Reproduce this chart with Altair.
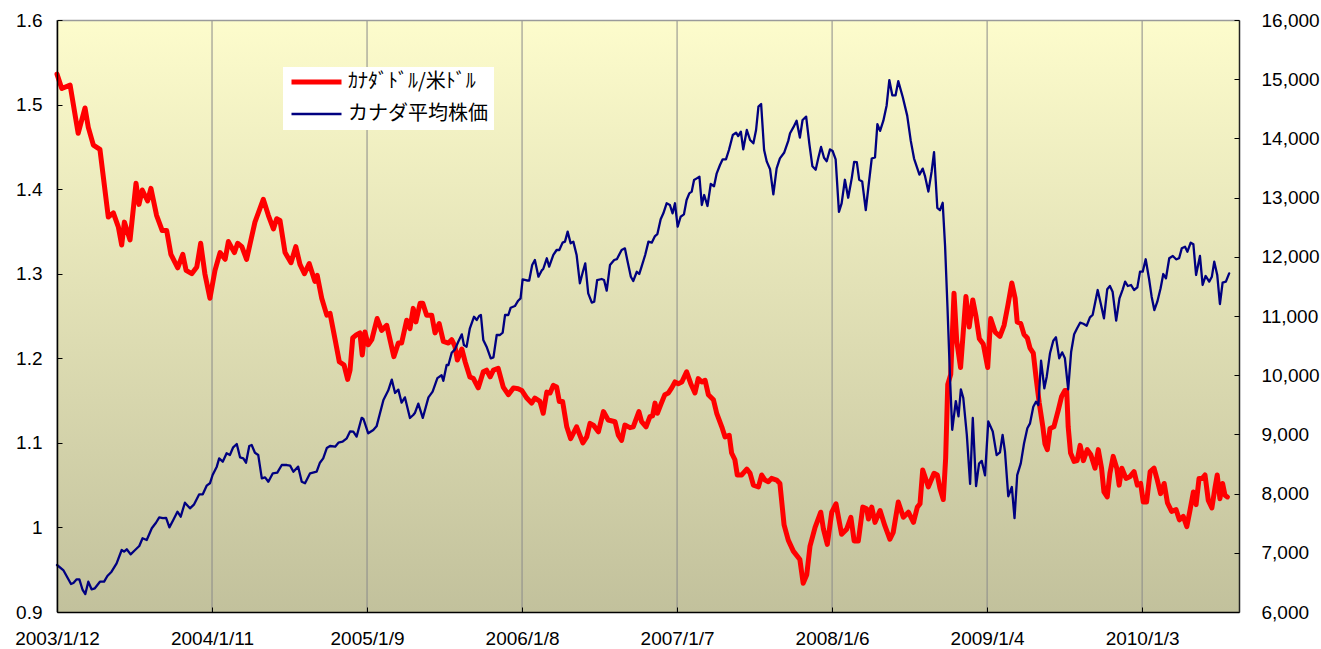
import altair as alt
import numpy as np
import pandas as pd

START = pd.Timestamp("2003-01-12")

# weeks since 2003/1/12 and CAD per USD
fx_weeks = [0.0, 1.6, 4.4, 7.1, 9.4, 10.5, 12.2, 14.4, 17.2, 18.9, 20.6, 21.7, 22.6, 24.5, 26.5, 27.5, 28.6, 30.4, 31.5, 33.4,
            35.3, 36.8, 38.2, 40.5, 42.2, 43.3, 45.2, 46.9, 48.2, 49.6, 51.3, 53.0, 54.7, 56.4, 57.5, 59.5, 60.6, 62.0, 63.6, 66.4,
            69.2, 70.9, 72.6, 73.7, 74.8, 76.5, 78.5, 80.1, 81.5, 83.0, 84.6, 86.5, 87.3, 88.8, 90.5, 91.6, 93.3, 94.7, 96.3, 97.5,
            98.3, 99.2, 100.5, 101.6, 102.4, 103.3, 104.4, 105.6, 107.4, 108.9, 110.6, 111.7, 113.0, 114.5, 115.6, 117.3, 118.4, 119.5, 120.4, 121.8,
            122.7, 124.0, 125.7, 126.8, 128.2, 129.6, 131.3, 132.4, 133.5, 134.3, 135.8, 136.9, 138.5, 139.7, 141.3, 143.0, 144.1, 145.3, 146.4, 148.0,
            149.7, 151.4, 153.1, 154.7, 155.9, 157.6, 159.2, 160.3, 162.0, 163.1, 164.3, 165.4, 166.5, 167.6, 168.5, 169.6, 171.0, 172.3, 174.3, 176.4,
            177.7, 178.8, 179.9, 181.6, 183.3, 184.9, 187.2, 188.3, 189.4, 190.5, 192.2, 193.3, 195.2, 196.1, 197.6, 198.9, 199.8, 200.6, 201.4, 202.5,
            203.9, 205.1, 206.2, 207.3, 208.4, 209.6, 211.2, 212.6, 214.0, 215.1, 216.3, 217.4, 218.5, 220.2, 221.3, 223.0, 224.1, 225.5, 226.3, 227.4,
            228.2, 229.7, 231.4, 232.5, 233.6, 235.3, 236.4, 237.5, 238.6, 239.7, 241.4, 242.5, 243.9, 245.3, 247.0, 249.2, 250.3, 251.5, 252.6, 254.3,
            256.2, 257.1, 258.4, 259.9, 261.3, 263.2, 264.9, 266.3, 267.4, 268.8, 270.3, 271.6, 272.2, 273.3, 274.4, 276.1, 277.7, 279.4, 280.5, 282.2,
            283.9, 285.6, 287.3, 288.6, 289.5, 290.4, 292.3, 294.2, 295.3, 296.2, 297.3, 298.1, 298.8, 299.8, 300.9, 301.8, 303.1, 304.0, 304.9, 306.0,
            307.2, 308.3, 309.4, 310.7, 312.2, 313.2, 314.7, 316.3, 317.7, 319.0, 320.3, 321.4, 322.1, 323.3, 324.4, 325.5, 326.4, 327.5, 328.4, 329.5,
            330.7, 331.4, 332.2, 333.1, 334.4, 335.9, 337.0, 338.1, 338.7, 339.2, 340.0, 341.2, 342.2, 343.2, 344.3, 345.6, 346.8, 348.2, 349.3, 350.4,
            351.2, 352.3, 353.2, 354.3, 355.5, 356.3, 357.2, 358.6, 359.9, 361.3, 362.4, 363.5, 364.4, 365.5, 366.7, 368.0, 369.1, 370.2, 371.4, 372.5,
            373.9, 375.4, 376.5, 377.8, 379.0, 380.1, 381.2, 382.1, 383.1, 384.2, 385.1, 386.2, 387.4, 388.5, 389.2, 390.1, 391.0, 391.8, 392.6]
fx_values = [1.536, 1.519, 1.523, 1.466, 1.496, 1.473, 1.452, 1.447, 1.367, 1.372, 1.355, 1.334, 1.361, 1.340, 1.407, 1.382, 1.399, 1.386, 1.401, 1.369,
             1.351, 1.351, 1.323, 1.307, 1.323, 1.304, 1.300, 1.308, 1.336, 1.300, 1.271, 1.304, 1.325, 1.317, 1.338, 1.325, 1.336, 1.332, 1.317, 1.361,
             1.388, 1.369, 1.353, 1.365, 1.363, 1.325, 1.313, 1.332, 1.311, 1.300, 1.312, 1.291, 1.298, 1.271, 1.251, 1.253, 1.222, 1.196, 1.192, 1.175,
             1.186, 1.224, 1.228, 1.230, 1.204, 1.231, 1.216, 1.222, 1.247, 1.233, 1.239, 1.222, 1.202, 1.218, 1.218, 1.245, 1.235, 1.259, 1.243, 1.265,
             1.265, 1.251, 1.251, 1.230, 1.241, 1.220, 1.218, 1.222, 1.214, 1.198, 1.211, 1.196, 1.178, 1.176, 1.165, 1.184, 1.186, 1.178, 1.186, 1.188,
             1.166, 1.157, 1.165, 1.164, 1.162, 1.153, 1.147, 1.153, 1.149, 1.135, 1.160, 1.159, 1.168, 1.166, 1.149, 1.149, 1.119, 1.105, 1.119, 1.100,
             1.107, 1.123, 1.121, 1.113, 1.137, 1.127, 1.125, 1.109, 1.103, 1.121, 1.118, 1.119, 1.137, 1.125, 1.119, 1.131, 1.132, 1.147, 1.135, 1.145,
             1.157, 1.159, 1.165, 1.172, 1.170, 1.172, 1.184, 1.170, 1.159, 1.176, 1.172, 1.174, 1.157, 1.151, 1.135, 1.119, 1.107, 1.109, 1.088, 1.080,
             1.062, 1.062, 1.069, 1.064, 1.050, 1.048, 1.062, 1.056, 1.054, 1.058, 1.056, 1.052, 1.003, 0.985, 0.972, 0.962, 0.934, 0.944, 0.978, 1.000,
             1.018, 0.998, 0.980, 1.018, 1.028, 0.992, 0.998, 1.012, 0.984, 0.984, 1.024, 1.022, 1.010, 1.024, 1.006, 1.020, 1.002, 0.986, 0.994, 1.030,
             1.012, 1.018, 1.006, 1.024, 1.028, 1.068, 1.048, 1.064, 1.062, 1.046, 1.033, 1.082, 1.169, 1.181, 1.277, 1.221, 1.189, 1.231, 1.273, 1.237,
             1.269, 1.249, 1.223, 1.217, 1.189, 1.247, 1.231, 1.226, 1.239, 1.263, 1.289, 1.271, 1.243, 1.241, 1.228, 1.224, 1.212, 1.206, 1.178, 1.147,
             1.119, 1.099, 1.092, 1.117, 1.119, 1.139, 1.155, 1.162, 1.162, 1.119, 1.088, 1.078, 1.079, 1.097, 1.079, 1.092, 1.086, 1.070, 1.092, 1.070,
             1.042, 1.036, 1.064, 1.084, 1.070, 1.050, 1.070, 1.058, 1.060, 1.066, 1.050, 1.052, 1.030, 1.030, 1.066, 1.070, 1.056, 1.040, 1.052, 1.029,
             1.019, 1.021, 1.009, 1.013, 1.001, 1.021, 1.042, 1.027, 1.058, 1.058, 1.062, 1.032, 1.023, 1.048, 1.062, 1.034, 1.052, 1.038, 1.036]

# weeks since 2003/1/12 and Canadian average stock price
stock_weeks = [0.0, 2.1, 4.7, 5.5, 6.6, 7.5, 8.6, 9.5, 10.5, 11.6, 12.7, 14.4, 15.8, 16.9, 18.3, 20.0, 21.7, 22.5, 23.4, 24.7,
               26.2, 27.6, 28.7, 30.1, 31.8, 33.2, 34.3, 35.5, 36.6, 37.7, 39.0, 40.4, 41.5, 42.9, 44.6, 46.0, 47.7, 48.9, 50.2, 51.3,
               52.2, 53.6, 54.4, 55.6, 56.9, 58.0, 59.1, 60.3, 61.4, 62.5, 63.4, 64.5, 65.3, 66.4, 67.5, 68.7, 69.8, 70.9, 72.4, 73.9,
               75.4, 77.1, 78.2, 79.3, 80.9, 82.1, 83.2, 84.9, 87.1, 88.2, 89.3, 90.5, 91.6, 93.3, 94.4, 95.8, 97.2, 98.3, 99.4, 100.5,
               102.2, 102.8, 104.4, 106.1, 107.2, 109.5, 111.1, 112.3, 113.4, 114.5, 115.6, 116.7, 118.4, 119.5, 120.1, 121.2, 122.7, 124.6, 126.0, 127.6,
               129.0, 129.6, 130.7, 131.3, 132.4, 133.5, 134.6, 135.8, 136.5, 137.4, 138.5, 139.9, 140.8, 141.6, 142.2, 143.0, 144.1, 145.5, 146.4, 147.5,
               148.6, 149.5, 150.3, 151.4, 152.2, 153.6, 154.7, 155.5, 156.2, 157.6, 158.4, 159.4, 160.3, 161.5, 162.6, 163.1, 164.3, 165.1, 166.5, 167.6,
               168.5, 169.6, 170.4, 171.3, 172.3, 173.2, 174.3, 175.4, 176.4, 177.2, 178.2, 179.4, 180.2, 181.2, 182.7, 183.5, 184.4, 185.5, 186.9, 187.8,
               189.4, 190.5, 191.3, 192.5, 193.3, 194.5, 195.3, 196.1, 197.3, 198.4, 199.5, 200.6, 201.4, 202.5, 203.4, 204.5, 205.6, 206.5, 207.3, 208.2,
               209.2, 210.3, 211.2, 212.1, 212.9, 213.7, 214.6, 215.5, 216.3, 217.1, 218.2, 219.3, 220.4, 221.3, 222.4, 223.3, 224.4, 225.4, 226.7, 227.8,
               228.5, 229.4, 230.2, 231.4, 232.5, 233.6, 234.5, 235.3, 236.2, 237.2, 238.1, 239.2, 240.3, 241.4, 242.5, 243.9, 245.3, 245.9, 247.0, 248.1,
               249.2, 250.1, 251.3, 252.4, 253.4, 254.5, 255.4, 256.3, 257.3, 258.2, 259.3, 260.2, 261.2, 262.3, 263.2, 264.3, 265.4, 266.6, 267.4, 268.3,
               269.1, 270.1, 271.3, 272.4, 273.3, 274.4, 275.2, 276.1, 277.2, 278.3, 279.2, 280.2, 281.3, 282.2, 283.7, 285.2, 286.4, 287.5, 289.3, 290.4,
               291.2, 292.3, 293.4, 294.2, 295.3, 296.2, 297.1, 297.9, 298.7, 299.6, 300.3, 301.5, 302.4, 303.2, 304.0, 305.2, 306.3, 307.2, 308.3, 309.3,
               310.2, 311.3, 312.4, 313.9, 315.2, 316.3, 317.2, 318.0, 319.1, 320.3, 321.2, 322.1, 323.3, 324.4, 325.5, 326.4, 327.5, 328.4, 329.2, 330.1,
               331.2, 332.0, 333.1, 334.2, 335.1, 336.2, 337.2, 338.1, 339.2, 340.2, 341.2, 342.2, 343.2, 344.3, 345.4, 346.5, 347.4, 348.2, 349.1, 350.1,
               351.2, 352.3, 353.2, 354.1, 355.3, 356.4, 357.5, 358.3, 359.2, 360.3, 361.3, 362.4, 363.3, 364.2, 365.2, 366.3, 367.2, 368.1, 369.1, 370.2,
               371.1, 372.0, 373.1, 374.3, 375.4, 376.4, 377.3, 378.4, 379.2, 380.3, 381.2, 382.1, 383.4, 384.3, 385.3, 386.5, 387.4, 388.2, 389.2, 390.1,
               391.0, 392.1, 393.2]
stock_values = [6794, 6709, 6473, 6490, 6552, 6552, 6372, 6304, 6512, 6383, 6400, 6512, 6512, 6608, 6681, 6822, 7047, 7019, 7059, 6974,
                7047, 7115, 7245, 7216, 7414, 7508, 7599, 7585, 7588, 7430, 7554, 7694, 7610, 7846, 7751, 7819, 7988, 7988, 8134, 8174,
                8314, 8455, 8596, 8539, 8681, 8653, 8782, 8838, 8613, 8596, 8522, 8804, 8821, 8691, 8653, 8258, 8275, 8201, 8343, 8354,
                8483, 8483, 8472, 8370, 8455, 8201, 8174, 8343, 8370, 8522, 8596, 8770, 8804, 8793, 8860, 8877, 8934, 9050, 9046, 8962,
                9280, 9260, 9018, 9074, 9136, 9581, 9740, 9925, 9700, 9756, 9536, 9626, 9277, 9328, 9367, 9520, 9278, 9626, 9722, 9950,
                10000, 9905, 10172, 10172, 10380, 10437, 10566, 10690, 10510, 10482, 10792, 10988, 10932, 11000, 11017, 10595, 10482, 10285, 10302, 10679,
                10679, 10718, 11017, 11017, 11140, 11168, 11258, 11297, 11620, 11600, 11600, 11861, 11946, 11664, 11770, 11794, 11975, 11833, 12031, 12115,
                12115, 12239, 12256, 12425, 12228, 12256, 12031, 11552, 11748, 11890, 11383, 11225, 11240, 11608, 11625, 11608, 11428, 11861, 11946, 11960,
                12115, 12143, 11946, 11664, 11591, 11748, 11709, 11833, 12031, 12256, 12239, 12351, 12385, 12633, 12735, 12904, 12875, 12735, 12904, 12508,
                12677, 12716, 12959, 13072, 13100, 13297, 13325, 13353, 12875, 13044, 12858, 13230, 13193, 13410, 13551, 13647, 13647, 13804, 14057, 14097,
                14040, 14113, 13816, 14142, 13973, 13917, 14142, 14536, 14581, 13804, 13607, 13478, 13056, 13495, 13662, 13757, 13958, 14086, 14186, 14299,
                14014, 14311, 14368, 13900, 13529, 13471, 13672, 13855, 13672, 13615, 13814, 13786, 13644, 12759, 12902, 13301, 12998, 13329, 13603, 13600,
                13301, 13273, 12787, 13272, 13660, 13680, 14242, 14128, 14299, 14556, 14985, 14728, 14728, 14968, 14699, 14385, 13958, 13660, 13387, 13490,
                13358, 13101, 13442, 13768, 12828, 12787, 12912, 12187, 11160, 9906, 9078, 9563, 9306, 9762, 9620, 8992, 8164, 9277, 8125, 8507,
                8552, 8308, 9220, 9049, 8650, 8695, 8991, 8708, 7955, 8112, 7585, 8311, 8511, 8850, 9103, 9187, 9468, 9552, 9497, 10245,
                9778, 9975, 10370, 10583, 10640, 10285, 10386, 10285, 9762, 10397, 10691, 10792, 10887, 10869, 10836, 10978, 11017, 11214, 11439, 11214,
                10961, 11451, 11507, 11411, 10921, 11299, 11451, 11580, 11507, 11524, 11439, 11484, 11749, 11749, 11958, 11637, 11326, 11101, 11242, 11468,
                11709, 11637, 11975, 12014, 11958, 11975, 12143, 12171, 12086, 12239, 12211, 11693, 12014, 11524, 11676, 11580, 11664, 11918, 11693, 11203,
                11563, 11580, 11721]

tick_dates = ["2003-01-12", "2004-01-11", "2005-01-09", "2006-01-08",
              "2007-01-07", "2008-01-06", "2009-01-04", "2010-01-03"]
fx_ticks = [0.9, 1.0, 1.1, 1.2, 1.3, 1.4, 1.5, 1.6]
stock_ticks = [6000, 7000, 8000, 9000, 10000, 11000, 12000, 13000, 14000, 15000, 16000]
series_names = ["ｶﾅﾀﾞﾄﾞﾙ/米ﾄﾞﾙ", "カナダ平均株価"]
series_colors = ["#ff0000", "#000080"]
series_widths = [5, 2.3]


def to_dates(weeks):
    return START + pd.to_timedelta(np.array(weeks, dtype=float) * 7, unit="D")


fx_df = pd.DataFrame({"date": to_dates(fx_weeks), "value": fx_values, "series": series_names[0]})
stock_df = pd.DataFrame({"date": to_dates(stock_weeks), "value": stock_values, "series": series_names[1]})
grid_df = pd.DataFrame({"date": pd.to_datetime(tick_dates)})

tick_dt = [alt.DateTime(year=d.year, month=d.month, date=d.day) for d in pd.to_datetime(tick_dates)]
x_end = START + pd.Timedelta(days=396.5 * 7)
x_scale = alt.Scale(domain=[alt.DateTime(year=2003, month=1, date=12),
                            alt.DateTime(year=x_end.year, month=x_end.month, date=x_end.day, hours=x_end.hour)])
fx_scale = alt.Scale(domain=[0.9, 1.6], nice=False, zero=False)
stock_scale = alt.Scale(domain=[6000, 16000], nice=False, zero=False)

LABEL_FONT = "Liberation Sans"
LABEL_SIZE = 19

legend = alt.Legend(
    title=None, orient="none", legendX=226, legendY=47, direction="vertical",
    fillColor="white", padding=6, symbolType="stroke", symbolSize=2500,
    clipHeight=18, rowPadding=12, symbolOffset=0, labelOffset=4,
    labelFont="Noto Sans CJK JP", labelFontSize=20, labelColor="black", labelLimit=400,
)
color_scale = alt.Scale(domain=series_names, range=series_colors)
width_scale = alt.Scale(domain=series_names, range=series_widths)

gradient = alt.LinearGradient(
    gradient="linear",
    stops=[alt.GradientStop(color="#fdfccc", offset=0), alt.GradientStop(color="#c2c19c", offset=1)],
    x1=0, x2=0, y1=0, y2=1,
)
bg = alt.Chart(pd.DataFrame({"k": [0]})).mark_rect(fill=gradient, strokeWidth=0).encode(
    x=alt.value(0), x2=alt.value("width"), y=alt.value(0), y2=alt.value("height"))

# vertical grid lines at the date ticks, with short inward tick marks on the bottom axis
grid = alt.Chart(grid_df).mark_rule(color="#8a8a8a", strokeWidth=1).encode(
    x=alt.X("date:T", scale=x_scale,
            axis=alt.Axis(values=tick_dt, orient="bottom", offset=-5, domain=False, labels=False,
                          ticks=True, tickSize=5, tickColor="black", tickWidth=1, grid=False,
                          title=None, zindex=1)))

x_axis_bottom = alt.Axis(
    values=tick_dt, format="%Y/%-m/%-d", formatType="time", title=None, grid=False, ticks=False,
    domainColor="black", domainWidth=1.5, labelFont=LABEL_FONT, labelFontSize=LABEL_SIZE, labelColor="black",
    labelPadding=17, labelFlush=False, labelOverlap=False, labelBound=False, orient="bottom", zindex=1)
x_axis_top = alt.Axis(orient="top", labels=False, ticks=False, grid=False, title=None,
                      domainColor="#9a9a9a", domainWidth=1.5, zindex=1)

red = alt.Chart(fx_df).mark_line(strokeJoin="round", strokeCap="round").encode(
    x=alt.X("date:T", scale=x_scale, axis=x_axis_bottom),
    y=alt.Y("value:Q", scale=fx_scale,
            axis=alt.Axis(values=fx_ticks, format=".1~f", orient="left", title=None, grid=False, ticks=False,
                          domainColor="black", domainWidth=1.5, labelFont=LABEL_FONT, labelFontSize=LABEL_SIZE,
                          labelColor="black", labelPadding=15, zindex=1)),
    color=alt.Color("series:N", scale=color_scale, legend=legend),
    strokeWidth=alt.StrokeWidth("series:N", scale=width_scale, legend=legend),
)

blue = alt.Chart(stock_df).mark_line(strokeJoin="round", strokeCap="round").encode(
    x=alt.X("date:T", scale=x_scale, axis=x_axis_top),
    y=alt.Y("value:Q", scale=stock_scale,
            axis=alt.Axis(values=stock_ticks, format=",d", orient="right", title=None, grid=False, ticks=False,
                          domainColor="#222222", domainWidth=1.5, labelFont=LABEL_FONT, labelFontSize=LABEL_SIZE,
                          labelColor="black", labelPadding=22, labelAlign="left", zindex=1)),
    color=alt.Color("series:N", scale=color_scale, legend=legend),
    strokeWidth=alt.StrokeWidth("series:N", scale=width_scale, legend=legend),
)

# invisible carriers for the inward tick marks of the two value axes
fx_ticks_layer = alt.Chart(fx_df).mark_line(strokeOpacity=0).encode(
    x=alt.X("date:T", scale=x_scale, axis=None),
    y=alt.Y("value:Q", scale=fx_scale,
            axis=alt.Axis(values=fx_ticks, orient="left", offset=-5, domain=False, labels=False, ticks=True,
                          tickSize=5, tickColor="black", tickWidth=1, grid=False, title=None, zindex=1)))
stock_ticks_layer = alt.Chart(stock_df).mark_line(strokeOpacity=0).encode(
    x=alt.X("date:T", scale=x_scale, axis=None),
    y=alt.Y("value:Q", scale=stock_scale,
            axis=alt.Axis(values=stock_ticks, orient="right", offset=-5, domain=False, labels=False, ticks=True,
                          tickSize=5, tickColor="black", tickWidth=1, grid=False, title=None, zindex=1)))

chart = alt.layer(bg, grid, red, blue, fx_ticks_layer, stock_ticks_layer).resolve_scale(
    y="independent").resolve_axis(x="independent").properties(
    width=1182, height=592,
    padding={"left": 57, "top": 20, "right": 82, "bottom": 37},
    autosize=alt.AutoSizeParams(type="none"),
).configure(background="white").configure_view(stroke=None)

chart.save("out.html", embed_options={"renderer": "svg", "actions": False})
